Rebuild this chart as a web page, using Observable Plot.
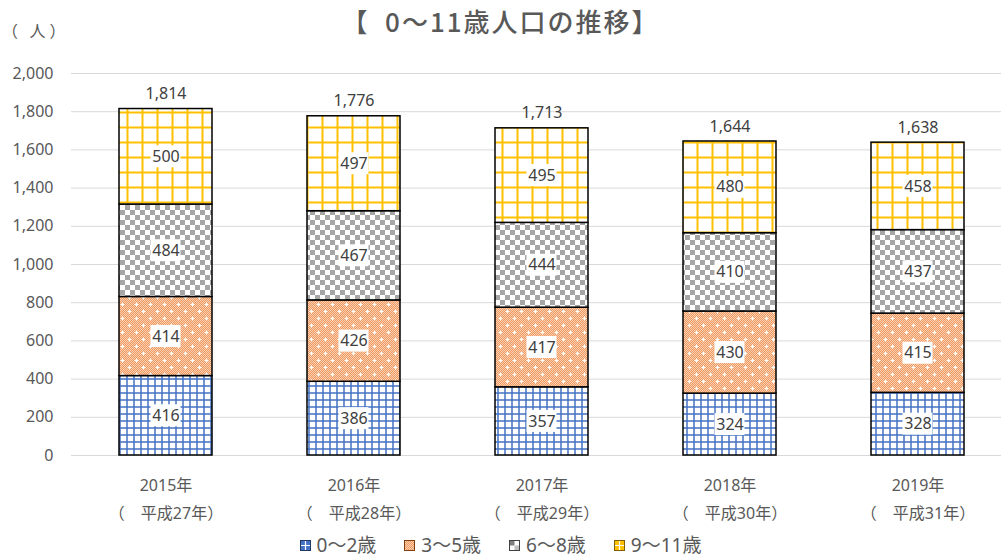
<!DOCTYPE html>
<html><head><meta charset="utf-8">
<script src="https://cdn.jsdelivr.net/npm/d3@7"></script>
<script src="https://cdn.jsdelivr.net/npm/@observablehq/plot@0.6"></script>
<style>
body{margin:0;background:#fff;font-family:"Noto Sans","Noto Sans CJK JP",sans-serif;}
#wrap{position:relative;width:1001px;height:558px;overflow:hidden;background:#fff}
#chart{position:absolute;left:0;top:0}
#title{position:absolute;top:5px;left:0;width:1001px;text-align:center;font-size:26px;line-height:32px;letter-spacing:2px;color:#595959;font-family:"Noto Sans CJK JP",sans-serif;font-weight:500}
#unit{position:absolute;left:2px;top:20px;font-size:16px;line-height:20px;letter-spacing:4px;color:#595959;font-family:"Noto Sans CJK JP",sans-serif}
#legend{position:absolute;top:533px;left:0;width:1001px;display:flex;justify-content:center;align-items:center;font-size:19px;line-height:24px;color:#595959;font-family:"Noto Sans","Noto Sans CJK JP",sans-serif}
.item{display:flex;align-items:center;margin:0 14px}
.item svg{margin-right:6px}
</style>
</head><body>
<div id="wrap">
  <div id="chart"></div>
  <div id="title">【&nbsp; 0〜11歳人口の推移】</div>
  <div id="unit">（ 人）</div>
  <div id="legend"></div>
</div>
<script>
// ---- data ----
const years = ["2015年", "2016年", "2017年", "2018年", "2019年"];
const eraLabels = ["（　平成27年）", "（　平成28年）", "（　平成29年）", "（　平成30年）", "（　平成31年）"];
const ageGroups = ["0〜2歳", "3〜5歳", "6〜8歳", "9〜11歳"];
const age0to2 = [416, 386, 357, 324, 328];
const age3to5 = [414, 426, 417, 430, 415];
const age6to8 = [484, 467, 444, 410, 437];
const age9to11 = [500, 497, 495, 480, 458];
const totals = [1814, 1776, 1713, 1644, 1638];
const yTicks = [0, 200, 400, 600, 800, 1000, 1200, 1400, 1600, 1800, 2000];

// ---- tables built from the arrays ----
const seriesValues = [age0to2, age3to5, age6to8, age9to11];
const rows = [];
years.forEach((yr, i) => {
  let cum = 0;
  seriesValues.forEach((vals, k) => {
    const v = vals[i];
    rows.push({year: yr, group: ageGroups[k], value: v, mid: cum + v / 2});
    cum += v;
  });
});
const totalRows = years.map((yr, i) => ({year: yr, total: totals[i]}));
const eraByYear = new Map(years.map((y, i) => [y, eraLabels[i]]));
const patternIds = ["url(#pat0)", "url(#pat1)", "url(#pat2)", "url(#pat3)"];
const fmt = d3.format(",");

function patternDefs() {
  const ns = "http://www.w3.org/2000/svg";
  const defs = document.createElementNS(ns, "defs");
  defs.innerHTML = `
  <pattern id="pat0" width="7" height="7" patternUnits="userSpaceOnUse">
    <rect width="7" height="7" fill="#fff"/>
    <path d="M0 1H7M1 0V7" stroke="#4472C4" stroke-width="1.5"/>
  </pattern>
  <pattern id="pat1dots" width="2" height="2" patternUnits="userSpaceOnUse">
    <rect width="2" height="2" fill="#F09A62"/>
    <rect width="1" height="1" fill="#FAD0B2"/>
    <rect x="1" y="1" width="1" height="1" fill="#FAD0B2"/>
  </pattern>
  <pattern id="pat1" width="14" height="14" patternUnits="userSpaceOnUse">
    <rect width="14" height="14" fill="url(#pat1dots)"/>
    <path d="M3.5 1.5v4M1.5 3.5h4M10.5 8.5v4M8.5 10.5h4" stroke="#fff" stroke-width="1"/>
  </pattern>
  <pattern id="pat2" width="10" height="10" patternUnits="userSpaceOnUse">
    <rect width="10" height="10" fill="#fff"/>
    <rect width="5" height="5" fill="#A6A6A6"/>
    <rect x="5" y="5" width="5" height="5" fill="#A6A6A6"/>
  </pattern>
  <pattern id="pat3" width="15" height="15" patternUnits="userSpaceOnUse">
    <rect width="15" height="15" fill="#fff"/>
    <path d="M0 7.5H15M7.5 0V15" stroke="#FFC000" stroke-width="2"/>
  </pattern>`;
  return defs;
}

const textColor = "#595959";
const labelColor = "#404040";

const chart = Plot.plot({
  width: 1001,
  height: 530,
  marginLeft: 71,
  marginRight: 0,
  marginTop: 73,
  marginBottom: 75,
  style: {fontFamily: '"Noto Sans","Noto Sans CJK JP",sans-serif', background: "transparent"},
  x: {domain: years, paddingInner: 0.506, paddingOuter: 0.222, align: 0.56, axis: null},
  y: {domain: [0, 2000], axis: null},
  color: {domain: ageGroups, range: patternIds},
  marks: [
    patternDefs,
    Plot.gridY(yTicks, {stroke: "#D9D9D9", strokeOpacity: 1, strokeWidth: 1}),
    Plot.barY(rows, {x: "year", y: "value", fill: "group", stroke: "#000", strokeWidth: 1.5}),
    Plot.barY(rows, {x: "year", y1: "mid", y2: "mid", fill: "white", insetTop: -11, insetBottom: -11, insetLeft: 31.5, insetRight: 31.5}),
    Plot.text(rows, {x: "year", y: "mid", text: "value", fill: labelColor, fontSize: 16}),
    Plot.text(totalRows, {x: "year", y: "total", text: d => fmt(d.total), dy: -15, fill: labelColor, fontSize: 16}),
    Plot.axisY(yTicks, {tickSize: 0, tickPadding: 18, tickFormat: fmt, fontSize: 16, color: textColor, label: null}),
    Plot.axisX({tickSize: 0, tickPadding: 24, fontSize: 16, color: textColor, label: null}),
    Plot.axisX({tickSize: 0, tickPadding: 52, fontSize: 16, color: textColor, label: null, tickFormat: d => eraByYear.get(d)})
  ]
});
document.getElementById("chart").appendChild(chart);

// ---- legend ----
const swatches = [
  `<rect x="0.5" y="0.5" width="10" height="10" fill="#4472C4" stroke="#1F3864"/><path d="M5.5 1V10M1 5.5H10" stroke="#fff" stroke-width="1.2"/>`,
  `<rect x="0.5" y="0.5" width="10" height="10" fill="url(#pat1dots)" stroke="#843C0C"/>`,
  `<rect x="0.5" y="0.5" width="10" height="10" fill="#fff" stroke="#404040"/><rect x="1" y="1" width="4.5" height="4.5" fill="#7F7F7F"/><rect x="5.5" y="5.5" width="4.5" height="4.5" fill="#BFBFBF"/>`,
  `<rect x="0.5" y="0.5" width="10" height="10" fill="#FFC000" stroke="#7F6000"/><path d="M5.5 1V10M1 5.5H10" stroke="#fff" stroke-width="1.2"/>`
];
const legend = document.getElementById("legend");
ageGroups.forEach((g, k) => {
  const item = document.createElement("div");
  item.className = "item";
  item.innerHTML = `<svg width="11" height="11" viewBox="0 0 11 11">${swatches[k]}</svg><span>${g}</span>`;
  legend.appendChild(item);
});
</script>
</body></html>
